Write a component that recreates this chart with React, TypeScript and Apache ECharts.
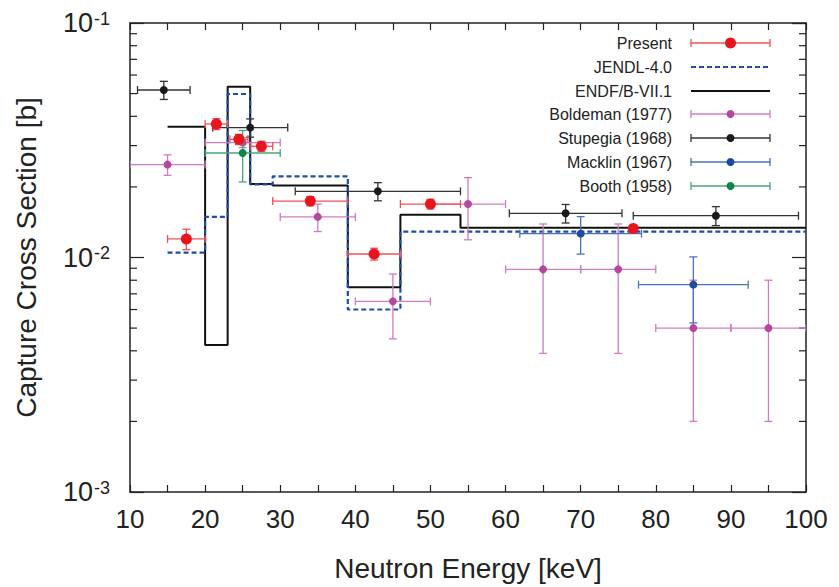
import React, { useEffect, useRef } from "react";
import * as echarts from "echarts";

// ---------- data ----------
const xTicks = [10, 20, 30, 40, 50, 60, 70, 80, 90, 100];
const yMajor = [0.001, 0.01, 0.1];
const yMinor = [0.002, 0.003, 0.004, 0.005, 0.006, 0.007, 0.008, 0.009, 0.02, 0.03, 0.04, 0.05, 0.06, 0.07, 0.08, 0.09];

const seriesNames = ["Present", "JENDL-4.0", "ENDF/B-VII.1", "Boldeman (1977)", "Stupegia (1968)", "Macklin (1967)", "Booth (1958)"];

// evaluated cross sections (bin edges and bin values)
const jendlEdges = [15, 20, 23, 26, 29, 39, 46, 100];
const jendlValues = [0.0105, 0.0149, 0.0498, 0.0205, 0.0222, 0.0060, 0.0129];
const endfEdges = [15, 20, 23, 26, 29, 39, 46, 54, 100];
const endfValues = [0.0361, 0.00423, 0.0535, 0.0206, 0.0203, 0.00746, 0.0152, 0.0134];

// measurements: energy, value, energy half-width, value uncertainty
const presentE = [17.5, 21.5, 24.5, 27.5, 34, 42.5, 50, 77];
const presentV = [0.0120, 0.0371, 0.0319, 0.0298, 0.0174, 0.01035, 0.0169, 0.0133];
const presentDE = [2.5, 1.5, 1.2, 1.5, 5, 3.5, 4, 0];
const presentDV = [0.0012, 0.002, 0.0016, 0.0015, 0.0008, 0.0006, 0.0008, 0.0004];

const boldemanE = [15, 25, 35, 45, 55, 65, 75, 85, 95];
const boldemanV = [0.0249, 0.0309, 0.0149, 0.0065, 0.0169, 0.0089, 0.0089, 0.0050, 0.0050];
const boldemanDE = [5, 5, 5, 5, 5, 5, 5, 5, 5];
const boldemanDV = [0.0025, 0.0015, 0.002, 0.002, 0.005, 0.005, 0.005, 0.003, 0.003];

const stupegiaE = [14.5, 26, 43, 68, 88];
const stupegiaV = [0.0518, 0.0358, 0.01915, 0.01543, 0.01508];
const stupegiaDE = [3.5, 5, 11, 7.5, 11];
const stupegiaDV = [0.0046, 0.0032, 0.0017, 0.0014, 0.0014];

const macklinE = [70, 85];
const macklinV = [0.01264, 0.00766];
const macklinDE = [8.1, 7.3];
const macklinDV = [0.0023, 0.0024];

const boothE = [25];
const boothV = [0.0279];
const boothDE = [5];
const boothDV = [0.0069];

// ---------- styles ----------
const FONT = "'Liberation Sans', Arial, Helvetica, sans-serif";
const C = {
  present: { dot: "#e8141e", bar: "#ef5055", r: 5.5 },
  boldeman: { dot: "#b6479f", bar: "#cf7cc3", r: 4 },
  stupegia: { dot: "#1a1a1a", bar: "#333333", r: 4 },
  macklin: { dot: "#1f4aa0", bar: "#4a72c0", r: 4 },
  booth: { dot: "#10844a", bar: "#45a878", r: 4 },
  jendl: "#1f4ea6",
  endf: "#111111",
};

function stepData(edges: number[], values: number[]) {
  const d: number[][] = values.map((v, i) => [edges[i], v]);
  d.push([edges[edges.length - 1], values[values.length - 1]]);
  return d;
}

function errData(E: number[], V: number[], dE: number[], dV: number[]) {
  return E.map((e, i) => [e, V[i], e - dE[i], e + dE[i], V[i] - dV[i], V[i] + dV[i]]);
}

function errSeries(name: string, data: number[][], st: { dot: string; bar: string; r: number }, z: number) {
  return {
    type: "custom",
    name,
    z,
    clip: true,
    data,
    encode: { x: 0, y: 1 },
    renderItem: (params: any, api: any) => {
      const x = api.value(0), y = api.value(1);
      const x0 = api.value(2), x1 = api.value(3), y0 = api.value(4), y1 = api.value(5);
      const c = api.coord([x, y]);
      const a = api.coord([x0, y]);
      const b = api.coord([x1, y]);
      const lo = api.coord([x, y0]);
      const hi = api.coord([x, y1]);
      const ls = { stroke: st.bar, lineWidth: 1.3 };
      const cap = 4;
      const children: any[] = [];
      if (x1 > x0) {
        children.push({ type: "line", shape: { x1: a[0], y1: c[1], x2: b[0], y2: c[1] }, style: ls });
        children.push({ type: "line", shape: { x1: a[0], y1: c[1] - cap, x2: a[0], y2: c[1] + cap }, style: ls });
        children.push({ type: "line", shape: { x1: b[0], y1: c[1] - cap, x2: b[0], y2: c[1] + cap }, style: ls });
      }
      children.push({ type: "line", shape: { x1: c[0], y1: lo[1], x2: c[0], y2: hi[1] }, style: ls });
      children.push({ type: "line", shape: { x1: c[0] - cap, y1: lo[1], x2: c[0] + cap, y2: lo[1] }, style: ls });
      children.push({ type: "line", shape: { x1: c[0] - cap, y1: hi[1], x2: c[0] + cap, y2: hi[1] }, style: ls });
      children.push({ type: "circle", shape: { cx: c[0], cy: c[1], r: st.r }, style: { fill: st.dot } });
      return { type: "group", children };
    },
  };
}

function legendGraphic() {
  const textRight = 672;
  const x0 = 691, x1 = 770, xm = 730.5;
  const rows = [43, 67, 91, 114, 138, 162, 186];
  const styles: any[] = [C.present, "jendl", "endf", C.boldeman, C.stupegia, C.macklin, C.booth];
  const children: any[] = [];
  seriesNames.forEach((name, i) => {
    const y = rows[i];
    children.push({
      type: "text",
      style: { text: name, x: textRight, y, align: "right", verticalAlign: "middle", font: `16px ${FONT}`, fill: "#222" },
    });
    const s = styles[i];
    if (s === "jendl") {
      children.push({ type: "line", shape: { x1: x0, y1: y, x2: x1, y2: y }, style: { stroke: C.jendl, lineWidth: 2.2, lineDash: [5, 3] } });
    } else if (s === "endf") {
      children.push({ type: "line", shape: { x1: x0, y1: y, x2: x1, y2: y }, style: { stroke: C.endf, lineWidth: 2 } });
    } else {
      const ls = { stroke: s.bar, lineWidth: 1.3 };
      children.push({ type: "line", shape: { x1: x0, y1: y, x2: x1, y2: y }, style: ls });
      children.push({ type: "line", shape: { x1: x0, y1: y - 4, x2: x0, y2: y + 4 }, style: ls });
      children.push({ type: "line", shape: { x1: x1, y1: y - 4, x2: x1, y2: y + 4 }, style: ls });
      children.push({ type: "circle", shape: { cx: xm, cy: y, r: s.r }, style: { fill: s.dot } });
    }
  });
  return [{ type: "group", children, z: 100 }];
}

export default function App() {
  const ref = useRef<HTMLDivElement>(null);
  useEffect(() => {
    if (!ref.current) return;
    const chart = echarts.init(ref.current, undefined, { renderer: "svg" });
    const axisLine = { show: true, lineStyle: { color: "#222", width: 1.5 } };
    const option: any = {
      animation: false,
      backgroundColor: "#fff",
      grid: { left: 130, right: 33, top: 23, bottom: 95, containLabel: false },
      xAxis: [
        {
          type: "value",
          min: xTicks[0],
          max: xTicks[xTicks.length - 1],
          interval: 10,
          name: "Neutron Energy [keV]",
          nameLocation: "middle",
          nameGap: 62,
          nameTextStyle: { fontFamily: FONT, fontSize: 28, color: "#222" },
          axisLine,
          axisTick: { inside: true, length: 7, lineStyle: { color: "#222", width: 1.2 } },
          minorTick: { show: true, splitNumber: 2, length: 7, lineStyle: { color: "#222", width: 1.2 } },
          splitLine: { show: false },
          axisLabel: { fontFamily: FONT, fontSize: 26, color: "#222", margin: 14 },
        },
        {
          type: "value",
          position: "top",
          min: xTicks[0],
          max: xTicks[xTicks.length - 1],
          interval: 10,
          axisLine,
          axisTick: { inside: true, length: 7, lineStyle: { color: "#222", width: 1.2 } },
          minorTick: { show: true, splitNumber: 2, length: 7, lineStyle: { color: "#222", width: 1.2 } },
          splitLine: { show: false },
          axisLabel: { show: false },
        },
      ],
      yAxis: [
        {
          type: "log",
          logBase: 10,
          min: yMajor[0],
          max: yMajor[yMajor.length - 1],
          name: "Capture Cross Section [b]",
          nameLocation: "middle",
          nameGap: 90,
          nameTextStyle: { fontFamily: FONT, fontSize: 28, color: "#222" },
          axisLine,
          axisTick: { inside: true, length: 14, lineStyle: { color: "#222", width: 1.2 } },
          splitLine: { show: false },
          axisLabel: {
            margin: 20,
            formatter: (v: number) => `{b|10}{e|${Math.round(Math.log10(v))}}`,
            rich: {
              b: { fontFamily: FONT, fontSize: 27, lineHeight: 27, color: "#222" },
              e: { fontFamily: FONT, fontSize: 18, lineHeight: 18, color: "#222", verticalAlign: "top", padding: [0, 0, 20, 1] },
            },
          },
        },
        {
          type: "log",
          logBase: 10,
          position: "right",
          min: yMajor[0],
          max: yMajor[yMajor.length - 1],
          axisLine,
          axisTick: { inside: true, length: 14, lineStyle: { color: "#222", width: 1.2 } },
          splitLine: { show: false },
          axisLabel: { show: false },
        },
      ],
      series: [
        {
          type: "custom",
          name: "minorTicks",
          silent: true,
          z: 1,
          data: yMinor.map((v) => [v]),
          encode: { y: 0 },
          renderItem: (params: any, api: any) => {
            const v = api.value(0);
            const l = api.coord([xTicks[0], v]);
            const r = api.coord([xTicks[xTicks.length - 1], v]);
            const ls = { stroke: "#222", lineWidth: 1.2 };
            return {
              type: "group",
              children: [
                { type: "line", shape: { x1: l[0], y1: l[1], x2: l[0] + 7, y2: l[1] }, style: ls },
                { type: "line", shape: { x1: r[0] - 7, y1: r[1], x2: r[0], y2: r[1] }, style: ls },
              ],
            };
          },
        },
        {
          type: "line",
          name: seriesNames[2],
          step: "end",
          showSymbol: false,
          z: 2,
          data: stepData(endfEdges, endfValues),
          lineStyle: { color: C.endf, width: 2 },
        },
        {
          type: "line",
          name: seriesNames[1],
          step: "end",
          showSymbol: false,
          z: 3,
          data: stepData(jendlEdges, jendlValues),
          lineStyle: { color: C.jendl, width: 2.2, type: [5, 3] },
        },
        errSeries(seriesNames[3], errData(boldemanE, boldemanV, boldemanDE, boldemanDV), C.boldeman, 4),
        errSeries(seriesNames[4], errData(stupegiaE, stupegiaV, stupegiaDE, stupegiaDV), C.stupegia, 5),
        errSeries(seriesNames[5], errData(macklinE, macklinV, macklinDE, macklinDV), C.macklin, 6),
        errSeries(seriesNames[6], errData(boothE, boothV, boothDE, boothDV), C.booth, 7),
        errSeries(seriesNames[0], errData(presentE, presentV, presentDE, presentDV), C.present, 8),
      ],
      graphic: legendGraphic(),
    };
    chart.setOption(option);
    return () => chart.dispose();
  }, []);
  return <div ref={ref} style={{ position: "fixed", left: 0, top: 0, width: 839, height: 587 }} />;
}
